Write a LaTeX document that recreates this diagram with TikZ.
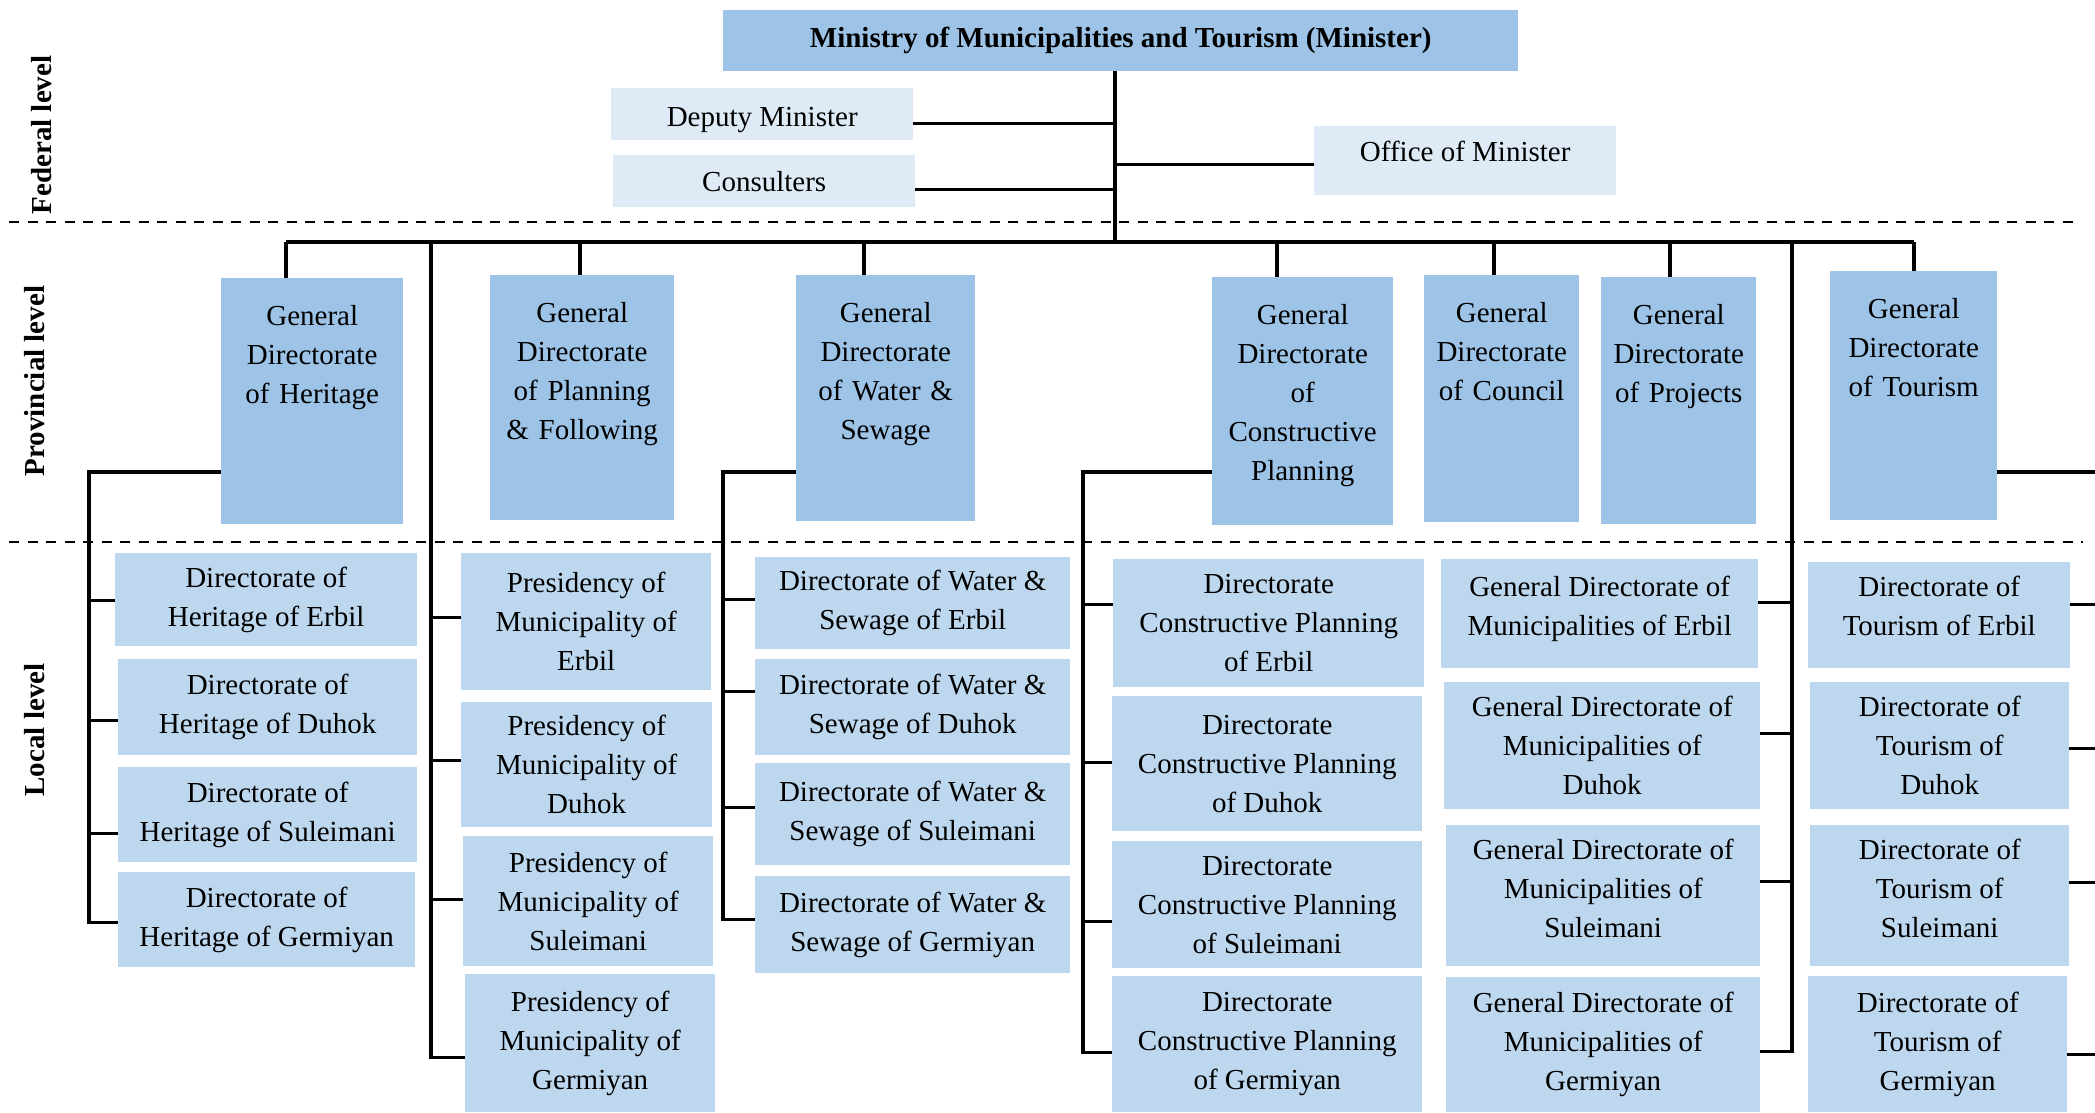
\documentclass[tikz,border=0pt]{standalone}
\usepackage{fontspec}
\setmainfont{Liberation Serif}
\usepackage{xcolor}
\usepackage{tikz}

\definecolor{gdblue}{HTML}{9DC3E6}
\definecolor{locblue}{HTML}{BDD7EE}
\definecolor{fedblue}{HTML}{DEEBF7}

% text sitting a little off the middle of its box
\newcommand{\lifted}[2]{\raisebox{#1}[\height][\depth]{\begin{tabular}{@{}c@{}}#2\end{tabular}}}

\begin{document}
\begin{tikzpicture}[x=1pt, y=-1pt,
    every node/.style={inner sep=0pt, anchor=north west, align=center,
                       font=\fontsize{29}{39}\selectfont},
    fedbox/.style={fill=fedblue},
    gdbox/.style={fill=gdblue, text height=47pt},
    locbox/.style={fill=locblue},
    sz/.style 2 args={minimum width=#1pt, minimum height=#2pt},
    gdsz/.style 2 args={text width=#1pt, text depth=#2pt},
    link/.style={line width=3.4pt},
    levelline/.style={line width=2.6pt, dash pattern=on 10pt off 8.5pt},
    levellabel/.style={rotate=90, anchor=center,
                       font=\fontsize{29}{39}\selectfont\bfseries}]
  \useasboundingbox (0,0) rectangle (2095,1112);

  % levels
  \draw[levelline] (9,222) -- (2073,222);
  \draw[levelline] (9,542) -- (2083,542);
  \node[levellabel] (fedlab) at (42,135) {Federal level};
  \node[levellabel] (provlab) at (35,381) {Provincial level};
  \node[levellabel] (loclab) at (35,730) {Local level};

  % federal
  \node[fill=gdblue, sz={795}{61}, font=\fontsize{29}{39}\selectfont\bfseries]
       (minister) at (723,10) {Ministry of Municipalities and Tourism (Minister)};
  \node[fedbox, sz={302}{52}] (deputy) at (611,88) {\lifted{-4pt}{Deputy Minister}};
  \node[fedbox, sz={302}{52}] (consult) at (613,155) {Consulters};
  \node[fedbox, sz={302}{69}] (office) at (1314,126) {\lifted{7pt}{Office of Minister}};

  % provincial
  \node[gdbox, gdsz={182}{199}] (gdheritage) at (221,278) {General\\Directorate\\of Heritage};
  \node[gdbox, gdsz={184}{198}] (gdplanning) at (490,275) {General\\Directorate\\of Planning\\\& Following};
  \node[gdbox, gdsz={179}{199}] (gdwater) at (796,275) {General\\Directorate\\of Water \&\\Sewage};
  \node[gdbox, gdsz={181}{201}] (gdconstr) at (1212,277) {General\\Directorate\\of\\Constructive\\Planning};
  \node[gdbox, gdsz={155}{200}] (gdcouncil) at (1424,275) {General\\Directorate\\of Council};
  \node[gdbox, gdsz={155}{200}] (gdprojects) at (1601,277) {General\\Directorate\\of Projects};
  \node[gdbox, gdsz={167}{202}] (gdtourism) at (1830,271) {General\\Directorate\\of Tourism};

  % local: heritage
  \node[locbox, sz={302}{93}] (herErbil) at (115,553) {Directorate of\\Heritage of Erbil};
  \node[locbox, sz={299}{96}] (herDuhok) at (118,659) {Directorate of\\Heritage of Duhok};
  \node[locbox, sz={299}{95}] (herSul) at (118,767) {Directorate of\\Heritage of Suleimani};
  \node[locbox, sz={297}{95}] (herGerm) at (118,872) {Directorate of\\Heritage of Germiyan};

  % local: presidencies
  \node[locbox, sz={250}{137}] (presErbil) at (461,553) {Presidency of\\Municipality of\\Erbil};
  \node[locbox, sz={251}{125}] (presDuhok) at (461,702) {Presidency of\\Municipality of\\Duhok};
  \node[locbox, sz={250}{130}] (presSul) at (463,836) {Presidency of\\Municipality of\\Suleimani};
  \node[locbox, sz={250}{138}] (presGerm) at (465,974) {Presidency of\\Municipality of\\Germiyan};

  % local: water & sewage
  \node[locbox, sz={315}{92}] (watErbil) at (755,557) {Directorate of Water \&\\Sewage of Erbil};
  \node[locbox, sz={315}{96}] (watDuhok) at (755,659) {Directorate of Water \&\\Sewage of Duhok};
  \node[locbox, sz={315}{102}] (watSul) at (755,763) {Directorate of Water \&\\Sewage of Suleimani};
  \node[locbox, sz={315}{97}] (watGerm) at (755,876) {Directorate of Water \&\\Sewage of Germiyan};

  % local: constructive planning
  \node[locbox, sz={311}{128}] (conErbil) at (1113,559) {Directorate\\Constructive Planning\\of Erbil};
  \node[locbox, sz={310}{135}] (conDuhok) at (1112,696) {Directorate\\Constructive Planning\\of Duhok};
  \node[locbox, sz={310}{127}] (conSul) at (1112,841) {Directorate\\Constructive Planning\\of Suleimani};
  \node[locbox, sz={310}{136}] (conGerm) at (1112,976) {Directorate\\Constructive Planning\\of Germiyan};

  % local: municipalities
  \node[locbox, sz={317}{109}] (munErbil) at (1441,559) {\lifted{6pt}{General Directorate of\\Municipalities of Erbil}};
  \node[locbox, sz={316}{127}] (munDuhok) at (1444,682) {General Directorate of\\Municipalities of\\Duhok};
  \node[locbox, sz={314}{141}] (munSul) at (1446,825) {\lifted{5pt}{General Directorate of\\Municipalities of\\Suleimani}};
  \node[locbox, sz={314}{135}] (munGerm) at (1446,977) {General Directorate of\\Municipalities of\\Germiyan};

  % local: tourism
  \node[locbox, sz={262}{106}] (touErbil) at (1808,562) {\lifted{7pt}{Directorate of\\Tourism of Erbil}};
  \node[locbox, sz={259}{127}] (touDuhok) at (1810,682) {Directorate of\\Tourism of\\Duhok};
  \node[locbox, sz={259}{141}] (touSul) at (1810,825) {\lifted{5pt}{Directorate of\\Tourism of\\Suleimani}};
  \node[locbox, sz={259}{136}] (touGerm) at (1808,976) {Directorate of\\Tourism of\\Germiyan};

  % minister and staff
  \coordinate (hub) at (1115,242);
  \draw[link] (minister.south -| hub) -- (hub);
  \draw[link] ([yshift=-9pt]deputy.east) -- ([yshift=-9pt]deputy.east -| hub);
  \draw[link] ([yshift=-8pt]consult.east) -- ([yshift=-8pt]consult.east -| hub);
  \draw[link] ([yshift=-4pt]office.west) -- ([yshift=-4pt]office.west -| hub);

  % bus to the general directorates
  \coordinate (dHer) at (286,242);
  \coordinate (dPla) at (580,242);
  \coordinate (dWat) at (864,242);
  \coordinate (dCon) at (1277,242);
  \coordinate (dCou) at (1494,242);
  \coordinate (dPro) at (1670,242);
  \coordinate (dTou) at (1914,242);
  \draw[link] (dHer) -- (dTou);
  \draw[link] (dHer) -- (dHer |- gdheritage.north);
  \draw[link] (dPla) -- (dPla |- gdplanning.north);
  \draw[link] (dWat) -- (dWat |- gdwater.north);
  \draw[link] (dCon) -- (dCon |- gdconstr.north);
  \draw[link] (dCou) -- (dCou |- gdcouncil.north);
  \draw[link] (dPro) -- (dPro |- gdprojects.north);
  \draw[link] (dTou) -- (dTou |- gdtourism.north);

  % heritage branch
  \coordinate (herTop) at (89,472);
  \draw[link] (gdheritage.west |- herTop) -- (herTop) |- ([yshift=-2.5pt]herGerm.west);
  \draw[link] ([yshift=-0.5pt]herErbil.west) -- ([yshift=-0.5pt]herErbil.west -| herTop);
  \draw[link] ([yshift=-13pt]herDuhok.west) -- ([yshift=-13pt]herDuhok.west -| herTop);
  \draw[link] ([yshift=-18.5pt]herSul.west) -- ([yshift=-18.5pt]herSul.west -| herTop);

  % presidencies hang from the bus
  \coordinate (pTop) at (431,242);
  \draw[link] (pTop) |- ([yshift=-14pt]presGerm.west);
  \draw[link] ([yshift=4.5pt]presErbil.west) -- ([yshift=4.5pt]presErbil.west -| pTop);
  \draw[link] ([yshift=4.5pt]presDuhok.west) -- ([yshift=4.5pt]presDuhok.west -| pTop);
  \draw[link] ([yshift=2pt]presSul.west) -- ([yshift=2pt]presSul.west -| pTop);

  % water branch
  \coordinate (watTop) at (723,472);
  \draw[link] (gdwater.west |- watTop) -- (watTop) |- ([yshift=5.5pt]watGerm.west);
  \draw[link] ([yshift=4pt]watErbil.west) -- ([yshift=4pt]watErbil.west -| watTop);
  \draw[link] ([yshift=16pt]watDuhok.west) -- ([yshift=16pt]watDuhok.west -| watTop);
  \draw[link] ([yshift=7pt]watSul.west) -- ([yshift=7pt]watSul.west -| watTop);

  % constructive planning branch
  \coordinate (conTop) at (1083,472);
  \draw[link] (gdconstr.west |- conTop) -- (conTop) |- ([yshift=-8pt]conGerm.west);
  \draw[link] ([yshift=19pt]conErbil.west) -- ([yshift=19pt]conErbil.west -| conTop);
  \draw[link] ([yshift=1.5pt]conDuhok.west) -- ([yshift=1.5pt]conDuhok.west -| conTop);
  \draw[link] ([yshift=-16.5pt]conSul.west) -- ([yshift=-16.5pt]conSul.west -| conTop);

  % municipalities hang from the bus
  \coordinate (mTop) at (1792,242);
  \draw[link] (mTop) |- ([yshift=-6.5pt]munGerm.east);
  \draw[link] ([yshift=11.5pt]munErbil.east) -- ([yshift=11.5pt]munErbil.east -| mTop);
  \draw[link] ([yshift=12.5pt]munDuhok.east) -- ([yshift=12.5pt]munDuhok.east -| mTop);
  \draw[link] ([yshift=14.5pt]munSul.east) -- ([yshift=14.5pt]munSul.east -| mTop);

  % tourism branch runs off to the right
  \coordinate (touEdge) at (2100,472);
  \draw[link] (gdtourism.east |- touEdge) -- (touEdge);
  \draw[link] ([yshift=11pt]touErbil.east) -- ([yshift=11pt]touErbil.east -| touEdge);
  \draw[link] ([yshift=-2.5pt]touDuhok.east) -- ([yshift=-2.5pt]touDuhok.east -| touEdge);
  \draw[link] ([yshift=13.5pt]touSul.east) -- ([yshift=13.5pt]touSul.east -| touEdge);
  \draw[link] ([yshift=-10pt]touGerm.east) -- ([yshift=-10pt]touGerm.east -| touEdge);
\end{tikzpicture}
\end{document}
